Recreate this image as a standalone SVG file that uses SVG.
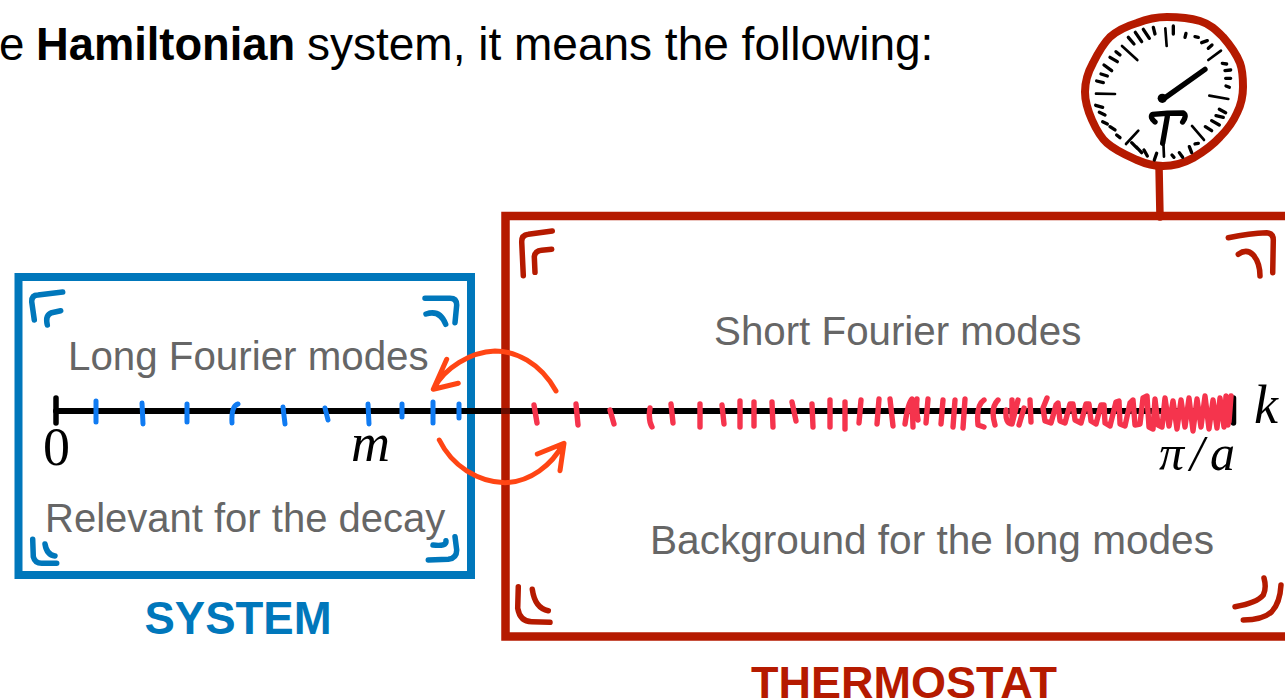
<svg xmlns="http://www.w3.org/2000/svg" width="1285" height="699" viewBox="0 0 1285 699">
<style>
.t{font-family:"Liberation Sans",Arial,sans-serif}
.g{font-size:40.300px;fill:#666}
.s{font-family:"Liberation Serif","Times New Roman",serif;fill:#000}
.n{fill:none;stroke-linecap:round;stroke-linejoin:round}
.b{stroke:#0077bb;stroke-width:5.500}
.r{stroke:#b51a00;stroke-width:5.500}
.bt{stroke:#107bf2;stroke-width:5}
.rt{stroke:#f5344d;stroke-width:5.400}
.o{stroke:#ff4514;stroke-width:5}
.k{stroke:#000;stroke-width:6}
</style>
<rect width="1285" height="699" fill="#fff"/>
<text id="heading" class="t" font-size="45.700" fill="#000" y="60"><tspan x="-1">e</tspan><tspan x="36" font-size="45.300" font-weight="700">Hamiltonian</tspan><tspan x="307" font-size="46">system, it means the following:</tspan></text>

<g id="system">
<rect x="18.500" y="277" width="452.500" height="298" fill="none" stroke="#0077bb" stroke-width="8"/>
<path class="n b" d="M34.300 320L31.700 301.700Q31.700 295 38 295L62.700 292M47.300 325Q45 315 51.700 312.700L60.700 310.700"/>
<path class="n b" d="M425 298.300L450 298.300Q456.700 298.300 456.700 305L455 322.700M426 314Q440 309.300 445.700 324.300"/>
<path class="n b" d="M428.300 560L448.300 559.300Q456.700 558.300 456.700 550L455 536.700M433 545Q446.700 546.700 446 540.700"/>
<path class="n b" d="M32.700 539.300L33.300 556.700Q35 563.300 41.700 563.300L56.700 563.300M45 544Q46.700 555 55 556"/>
<text class="t g" x="68" y="370">Long Fourier modes</text>
<text class="t g" x="45" y="532" style="font-size:40px">Relevant for the decay</text>
<text class="t" x="238" y="634" text-anchor="middle" font-size="45.500" font-weight="700" fill="#0077bb">SYSTEM</text>
</g>

<g id="thermostat">
<rect x="505.500" y="216" width="900" height="420.500" fill="none" stroke="#b51a00" stroke-width="8.500"/>
<path class="n r" d="M523.300 275.700L521.700 241.700Q521.700 235 528.300 234.300L552.300 231M535 272.300L534.300 256.700Q535 251 541.700 250.300L551.700 249.300"/>
<path class="n r" d="M1228.300 237.700Q1250 233.300 1266.700 232.700Q1273.300 233.300 1273.300 240L1272.700 272.700M1238.300 254.300Q1246.700 248.300 1253.300 255Q1260 263 1260 276"/>
<path class="n r" d="M518.300 586.700L517.700 608.300Q520 621.700 531.700 621.700L550 622.300M532.300 589.300Q535 608.300 548.300 610.700"/>
<path class="n r" d="M1243.300 620Q1263.300 620 1271.700 611.700Q1280 603 1281 585M1235 606.700Q1256.700 603 1263.300 595Q1266.700 588 1264 578"/>
<text class="t g" x="714" y="345">Short Fourier modes</text>
<text class="t g" x="650" y="554" style="font-size:40.600px">Background for the long modes</text>
<text class="t" x="904" y="698" text-anchor="middle" font-size="45" font-weight="700" fill="#b51a00">THERMOSTAT</text>
</g>

<g id="clock">
<path d="M1159 166L1160 217" fill="none" stroke="#b51a00" stroke-width="7.500" stroke-linecap="round"/>
<path d="M1167 17C1180 17 1190 18 1200 21C1210 24 1216 30 1223 37C1230 45 1236 53 1240 63C1243 71 1243 79 1243 87C1243 97 1241 105 1237 113C1233 122 1227 130 1220 137C1212 146 1203 152 1193 158C1184 163 1174 166 1163 166C1154 166 1146 164 1137 160C1126 155 1116 151 1107 143C1100 137 1096 129 1092 120C1088 111 1085 102 1085 92C1085 82 1088 72 1093 63C1098 53 1103 44 1110 37C1118 30 1127 26 1137 23C1147 19 1157 17 1167 17Z" fill="#fff" stroke="#b51a00" stroke-width="8"/>
<g transform="translate(1060 0) scale(.3333)">
<path class="n" stroke="#000" stroke-width="8" d="M316 85L320 138M483 152L445 180M505 297L448 287M432 420L396 378M312 470L310 425M235 392L198 432M108 281L165 282M232 180L186 138"/>
<path class="n" stroke="#000" stroke-width="10" d="M340 78L340 102M378 100L375 112M405 110L415 112M425 128L442 122M445 145L456 135M487 190L500 192M495 212L512 210M497 235L512 235M498 258L508 262M478 328L497 338M468 347L490 352M455 362L478 375M436 380L455 392M405 432L415 430M388 440L395 458M358 458L368 472M336 465L342 472M290 460L283 480M252 450L262 468M228 440L245 458M215 428L232 445M170 405L180 413M150 380L165 390M128 365L142 372M118 337L135 345M107 316L128 322M110 243L130 248M123 222L142 228M132 195L155 212M150 172L172 185M168 155L180 165M205 112L222 132M226 97L245 125M250 88L268 115M280 82L285 102"/>
<path class="n" stroke="#000" stroke-width="16" d="M310 297L435 208"/>
<circle cx="307" cy="295" r="14" fill="#000"/>
<path class="n" stroke="#000" stroke-width="16" d="M285 366Q268 352 278 343Q320 339 370 339Q382 347 368 366M322 350L308 430"/>
</g>
</g>

<g id="connectors">
<path class="n k" d="M56 411H1233"/>
<path class="n" stroke="#000" stroke-width="5.500" stroke-linecap="butt" d="M56 398V423M1233.500 398V423"/>
<rect x="501" y="408" width="9" height="6" fill="#6a0c00"/>
<g class="n bt">
<path d="M96 401V422M142 403L143 424M187 404V422M232 423Q231 406 238 404M283 407L285 424M325 408L328 420M368 404L369 424M402 404V417M433 402V423M459 404V418"/>
</g>
<g class="n rt">
<path d="M534 405L537 423M576 404L578 425M610 410L614 424M650 408Q648 420 652 427M671 404L673 423M700 404V427M722 405L724 424M740 401V427M754 402V426M772 402L773 427M792 402L796 421M812 404L813 427M830 400V427M845 402V429M861 400L859 423M879 399L877 424M890 399L893 426M905 424Q908 403 912 399L913 427M917 399Q916 410 918 420M928 399L926 423M943 400L941 424M955 400L953 427M965 399L963 428M984 400Q976 405 978 425L984 427M998 400Q990 408 995 425M1006 410Q1005 424 1012 424L1018 400M1012 400L1012 422M1019 425L1024 408M1030 400L1031 422"/>
<path stroke-width="5.400" d="M1047 398L1043 408L1045 421L1051 423L1056 405L1058 403L1060 421L1065 423L1070 404L1073 404L1075 420L1081 423L1086 404L1089 404L1091 421L1096 424L1101 405L1104 405L1105 423L1110 426L1116 402L1119 401L1120 424L1125 426L1130 403L1133 400L1135 425L1140 424L1143 398L1147 396L1149 427L1153 429L1155 399L1158 425L1162 427L1165 398L1169 426L1173 401L1177 429L1181 400L1185 427L1189 398L1193 431L1197 399L1201 427L1205 396L1209 429L1213 400L1217 428L1220 398L1224 427L1226 396L1228 425L1231 396L1229 422L1227 398"/>
</g>
<g class="n o">
<path d="M556 391C540 362 515 351 495 351C470 352 445 368 434 388M446.700 359.300L433.300 389.300L458.300 383.300"/>
<path d="M439.300 440C452 466 478 482 505 482.700C530 482 552 465 563 444M537.300 454L564 443.300L560 470.700"/>
</g>
</g>

<g id="axis-labels">
<text class="s" x="43" y="465" font-size="54">0</text>
<text class="s" x="351" y="461" font-size="54" font-style="italic">m</text>
<text class="s" x="1254" y="423" font-size="54" font-style="italic">k</text>
<text class="s" x="1159" y="470" font-size="50" font-style="italic" letter-spacing="6">π/a</text>
</g>
</svg>
